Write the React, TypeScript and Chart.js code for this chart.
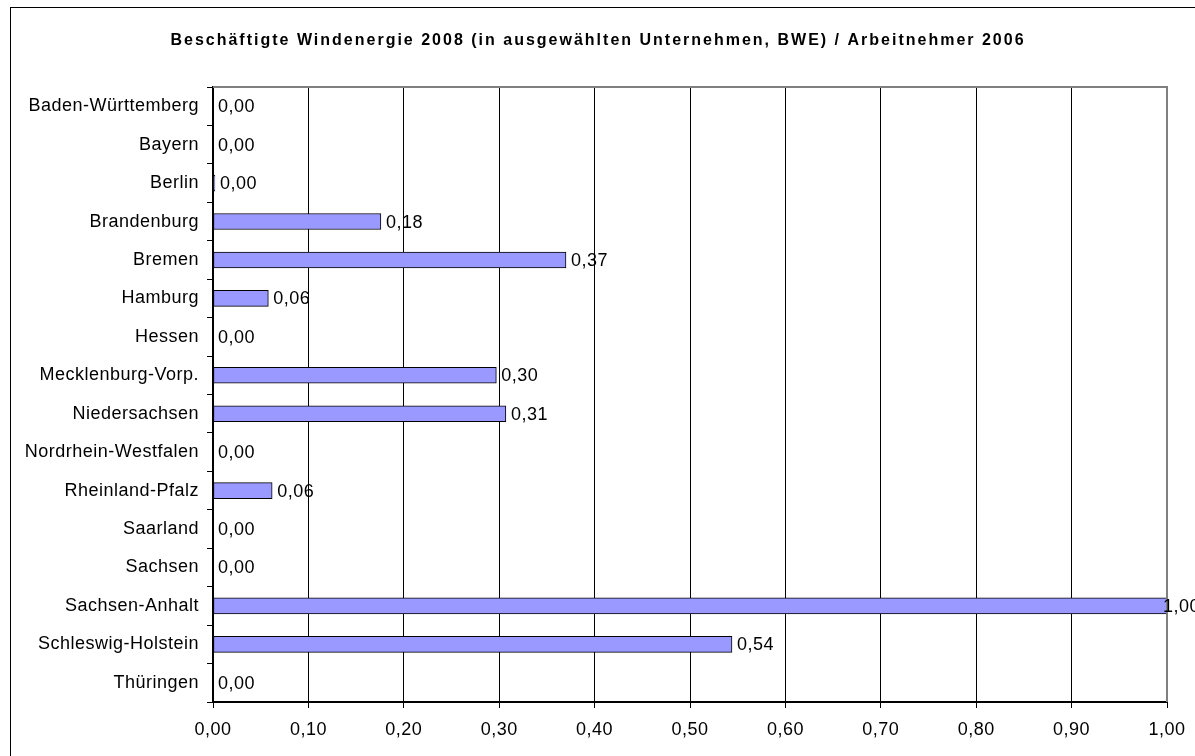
import React, { useEffect, useRef } from "react";
import { Chart, registerables } from "chart.js";

Chart.register(...registerables);

const TITLE = "Beschäftigte Windenergie 2008 (in ausgewählten Unternehmen, BWE) / Arbeitnehmer 2006";

const categories = [
  "Baden-Württemberg",
  "Bayern",
  "Berlin",
  "Brandenburg",
  "Bremen",
  "Hamburg",
  "Hessen",
  "Mecklenburg-Vorp.",
  "Niedersachsen",
  "Nordrhein-Westfalen",
  "Rheinland-Pfalz",
  "Saarland",
  "Sachsen",
  "Sachsen-Anhalt",
  "Schleswig-Holstein",
  "Thüringen",
];

const values = [
  0.0, 0.0, 0.002, 0.176, 0.37, 0.058, 0.0, 0.297, 0.307, 0.0, 0.062, 0.0, 0.0, 1.0, 0.544, 0.0,
];

const FONT = "'Liberation Sans', Arial, sans-serif";
const SPACING = "0.5px";

const fmt = (v: number) => v.toFixed(2).replace(".", ",");

const spacingPlugin = {
  id: "spacing",
  beforeUpdate(chart: any) {
    chart.ctx.letterSpacing = SPACING;
  },
  beforeDraw(chart: any) {
    chart.ctx.letterSpacing = SPACING;
  },
};

const decorPlugin = {
  id: "decor",
  afterDraw(chart: any) {
    const ctx = chart.ctx;
    const { left, top, right, bottom } = chart.chartArea;
    ctx.save();
    // plot area border (top and right)
    ctx.strokeStyle = "#808080";
    ctx.lineWidth = 2;
    ctx.beginPath();
    ctx.moveTo(left, top);
    ctx.lineTo(right, top);
    ctx.lineTo(right, bottom);
    ctx.stroke();
    // outer chart border
    ctx.strokeStyle = "#000";
    ctx.lineWidth = 1;
    ctx.strokeRect(10.5, 7.5, chart.width + 20, chart.height + 20);
    // title
    ctx.fillStyle = "#000";
    ctx.font = "bold 16px " + FONT;
    ctx.letterSpacing = "2px";
    ctx.textAlign = "center";
    ctx.textBaseline = "alphabetic";
    ctx.fillText(TITLE, 598, 45);
    // data labels
    const meta = chart.getDatasetMeta(0);
    ctx.font = "18px " + FONT;
    ctx.letterSpacing = SPACING;
    ctx.textAlign = "left";
    ctx.textBaseline = "middle";
    meta.data.forEach((bar: any, i: number) => {
      const x = Math.min(bar.x + 5, chart.width - 32);
      ctx.fillText(fmt(values[i]), x, bar.y + 1);
    });
    ctx.restore();
  },
};

export default function App() {
  const ref = useRef<HTMLCanvasElement | null>(null);
  useEffect(() => {
    if (!ref.current) return;
    const chart = new Chart(ref.current, {
      type: "bar",
      data: {
        labels: categories,
        datasets: [
          {
            data: values,
            backgroundColor: "#9999FF",
            borderColor: "#000000",
            borderWidth: 1,
            borderSkipped: false,
            barThickness: 16,
          },
        ],
      },
      options: {
        indexAxis: "y",
        responsive: false,
        animation: false,
        layout: { padding: { top: 87, right: 28, left: 0, bottom: 0 } },
        plugins: {
          legend: { display: false },
          title: { display: false },
          tooltip: { enabled: false },
        },
        scales: {
          x: {
            type: "linear",
            min: 0,
            max: 1,
            afterFit: (s: any) => {
              s.height = 54;
              s.paddingLeft = 0;
              s.paddingRight = 0;
            },
            ticks: {
              stepSize: 0.1,
              color: "#000",
              font: { family: FONT, size: 18 },
              padding: 11,
              maxRotation: 0,
              callback: (v: any) => fmt(Number(v)),
            },
            grid: {
              color: "#000",
              lineWidth: 1,
              tickLength: 6,
              drawTicks: true,
            },
            border: { display: true, color: "#000", width: 2 },
          },
          y: {
            type: "category",
            afterFit: (s: any) => {
              s.width = 213;
              s.paddingTop = 0;
              s.paddingBottom = 0;
            },
            ticks: {
              color: "#000",
              font: { family: FONT, size: 18 },
              padding: 8,
              autoSkip: false,
            },
            grid: {
              offset: true,
              drawOnChartArea: false,
              drawTicks: true,
              tickLength: 6,
              color: "#000",
              lineWidth: 1,
            },
            border: { display: true, color: "#000", width: 2 },
          },
        },
      },
      plugins: [spacingPlugin, decorPlugin],
    } as any);
    return () => chart.destroy();
  }, []);
  return (
    <div style={{ position: "absolute", left: 0, top: 0, width: 1195, height: 756, background: "#fff" }}>
      <canvas ref={ref} width={1195} height={756} style={{ display: "block" }} />
    </div>
  );
}
